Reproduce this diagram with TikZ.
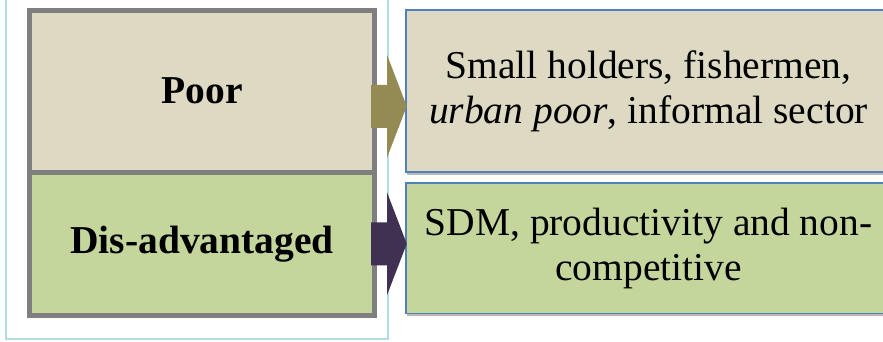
\documentclass[tikz,border=0pt]{standalone}
\usepackage{fontspec}
\setmainfont{Liberation Serif}
\usetikzlibrary{shadows}

\definecolor{boxgray}{HTML}{7F7F7F}
\definecolor{boxblue}{HTML}{4F81BD}
\definecolor{tan}{HTML}{DDD9C3}
\definecolor{lime}{HTML}{C4D69B}
\definecolor{olivearr}{HTML}{948A54}
\definecolor{purplearr}{HTML}{403152}
\definecolor{framecyan}{HTML}{B4DCE6}

\newcommand{\lbn}{\node[draw=boxgray, line width=5pt, minimum width=345pt, inner sep=0pt, font=\bfseries\fontsize{39.5}{44}\selectfont]}
\newcommand{\rbn}{\node[draw=boxblue, line width=1.5pt, minimum width=485pt, inner sep=0pt, align=center, drop shadow={shadow xshift=1pt, shadow yshift=-3pt, fill=black!35, opacity=0.8}, font=\fontsize{39.5}{45}\selectfont]}
% block arrow: colour, start coordinate, target node
\newcommand{\blockarr}[3]{\fill[#1]
    ([xshift=-6pt, yshift=21.5pt]#2) -- ([xshift=10pt, yshift=21.5pt]#2)
    -- ([xshift=10pt, yshift=51.5pt]#2) -- ([xshift=1.5pt]#2 -| #3.west)
    -- ([xshift=10pt, yshift=-51.5pt]#2) -- ([xshift=10pt, yshift=-21.5pt]#2)
    -- ([xshift=-6pt, yshift=-21.5pt]#2) -- cycle;}

\begin{document}
\begin{tikzpicture}[x=1pt, y=-1pt]
            \useasboundingbox (0,0) rectangle (883,341);
            \draw[framecyan, line width=1.2pt] (6,-5) rectangle (388,339);

            \lbn[fill=tan, minimum height=161.5pt] (poor) at (202, 91.25) {Poor};
            \lbn[fill=lime, minimum height=143.5pt] (disadv) at (202, 243.75) {Dis-advantaged};

            \rbn[fill=tan, minimum height=162pt] (poorgrp) at (648.5, 91) {Small holders, fishermen,\\\textit{urban poor}, informal sector};
            \rbn[fill=lime, minimum height=130.5pt] (disgrp) at (648.5, 248) {SDM, productivity and non-\\competitive};

            \coordinate (poorarr) at ([yshift=-15pt]poor.east);
            \coordinate (disarr) at (disadv.east);

            \blockarr{olivearr}{poorarr}{poorgrp}
            \blockarr{purplearr}{disarr}{disgrp}
        \end{tikzpicture}
\end{document}
